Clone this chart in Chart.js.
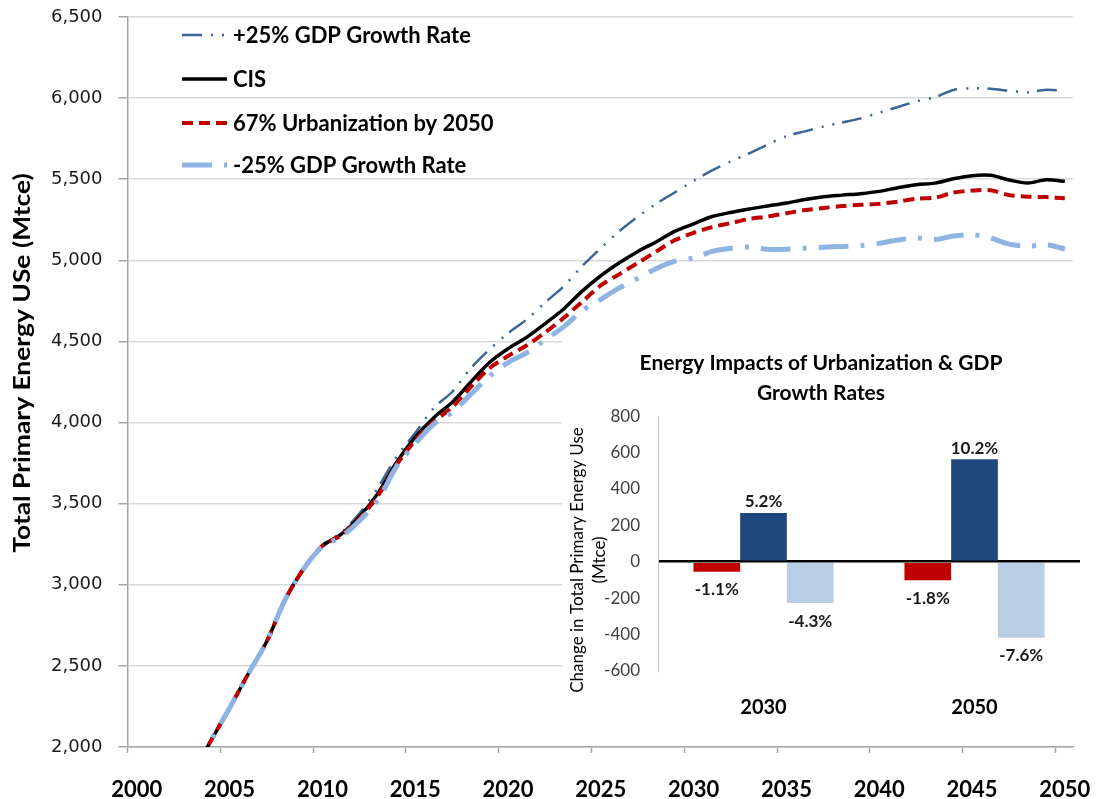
<!DOCTYPE html>
<html><head><meta charset="utf-8">
<script src="https://cdn.jsdelivr.net/npm/chart.js@4.4.1/dist/chart.umd.min.js"></script>
<style>
html,body{margin:0;padding:0;background:#fff;}
#wrap{position:relative;width:1096px;height:799px;overflow:hidden;background:#fff;}
#main{position:absolute;left:0;top:0;}
#inset{position:absolute;left:562px;top:336px;background:#fff;}
</style></head><body>
<div id="wrap"><canvas id="main" width="1096" height="799"></canvas><canvas id="inset" width="530" height="400"></canvas></div>
<script>
// ---------- DATA ----------
const years = [2003,2004,2005,2006,2007,2008,2009,2010,2011,2012,2013,2014,2015,2016,2017,2018,2019,2020,2021,2022,2023,2024,2025,2026,2027,2028,2029,2030,2031,2032,2033,2034,2035,2036,2037,2038,2039,2040,2041,2042,2043,2044,2045,2046,2047,2048,2049,2050];
const gdpHigh = [1830,2040,2240,2450,2650,2910,3100,3245,3320,3440,3600,3790,3935,4090,4190,4335,4450,4550,4635,4740,4840,4965,5075,5180,5270,5350,5420,5490,5555,5610,5660,5715,5765,5795,5825,5850,5875,5910,5945,5980,6005,6050,6060,6058,6045,6035,6052,6045];
const cis = [1830,2040,2240,2450,2650,2910,3100,3240,3310,3420,3565,3755,3910,4030,4125,4250,4370,4455,4525,4610,4700,4810,4905,4985,5055,5115,5180,5225,5270,5295,5317,5335,5353,5375,5392,5402,5411,5425,5448,5466,5476,5503,5522,5524,5495,5477,5496,5487];
const urban67 = [1830,2040,2240,2450,2650,2910,3100,3240,3305,3410,3550,3740,3890,4005,4095,4220,4335,4410,4475,4555,4645,4745,4845,4915,4985,5055,5125,5170,5205,5230,5255,5270,5290,5310,5322,5335,5342,5348,5362,5380,5386,5418,5430,5432,5402,5392,5390,5382];
const gdpLow = [1830,2040,2240,2450,2650,2910,3100,3235,3295,3395,3525,3730,3870,3990,4065,4175,4285,4370,4430,4510,4590,4690,4760,4830,4890,4950,4995,5015,5055,5075,5082,5068,5068,5075,5080,5086,5091,5105,5125,5138,5128,5150,5158,5138,5100,5088,5095,5070];
const xTickLabels = ['2000','2005','2010','2015','2020','2025','2030','2035','2040','2045','2050'];
const seriesNames = ['+25% GDP Growth Rate','CIS','67% Urbanization by 2050','-25% GDP Growth Rate'];

const insetCategories = ['2030','2050'];
const urbDelta = [-55,-101];
const gdpHighDelta = [268,563];
const gdpLowDelta = [-227,-418];
const urbPct = ['-1.1%','-1.8%'];
const gdpHighPct = ['5.2%','10.2%'];
const gdpLowPct = ['-4.3%','-7.6%'];

// ---------- MAIN CHART ----------
const toXY = arr => arr.map((v,i)=>({x:years[i], y:v}));

const legendPlugin = {
  id:'customLegend',
  afterDraw(chart){
    const ctx = chart.ctx;
    const rows = [35,79,123,165];
    chart.data.datasets.forEach((ds,i)=>{
      const y = rows[i];
      ctx.save();
      ctx.strokeStyle = ds.borderColor;
      ctx.lineWidth = ds.borderWidth;
      ctx.lineCap = 'butt';
      ctx.setLineDash(ds.borderDash || []);
      ctx.beginPath(); ctx.moveTo(182,y); ctx.lineTo(227,y); ctx.stroke();
      ctx.setLineDash([]);
      ctx.fillStyle = '#000';
      ctx.font = 'bold 22px Lato';
      ctx.textBaseline = 'middle';
      ctx.textAlign = 'left';
      ctx.fillText(ds.label, 233, y+1);
      ctx.restore();
    });
  }
};
const yTitlePlugin = {
  id:'yTitle',
  afterDraw(chart){
    const ctx = chart.ctx;
    ctx.save();
    ctx.translate(23, 363);
    ctx.rotate(-Math.PI/2);
    ctx.scale(1.2, 1);
    ctx.font = 'bold 22px Lato';
    ctx.fillStyle = '#000';
    ctx.textAlign = 'center';
    ctx.textBaseline = 'middle';
    ctx.fillText('Total Primary Energy USe (Mtce)', 0, 0);
    ctx.restore();
  }
};

new Chart(document.getElementById('main'), {
  type:'line',
  data:{datasets:[
    {label:seriesNames[0], data:toXY(gdpHigh), borderColor:'#3B6497', borderWidth:2.5, borderDash:[20,9,2,9,2,8], order:3},
    {label:seriesNames[1], data:toXY(cis), borderColor:'#000000', borderWidth:3.5, order:2},
    {label:seriesNames[2], data:toXY(urban67), borderColor:'#C00000', borderWidth:4, borderDash:[11,6], order:1},
    {label:seriesNames[3], data:toXY(gdpLow), borderColor:'#8EB4E3', borderWidth:5, borderDash:[30,12,4,12], order:0}
  ]},
  options:{
    responsive:false, animation:false, devicePixelRatio:1,
    layout:{padding:{top:17,right:23,bottom:0,left:0}},
    elements:{point:{radius:0}, line:{tension:0.3, fill:false, borderCapStyle:'butt'}},
    plugins:{legend:{display:false}, tooltip:{enabled:false}},
    scales:{
      x:{type:'linear', min:1999.5, max:2050.44,
        afterBuildTicks: s => { s.ticks = xTickLabels.map(l => ({value: Number(l) - 0.5})); },
        afterFit: s => { s.height = 52; s.paddingLeft = 0; s.paddingRight = 0; },
        ticks:{autoSkip:false, maxRotation:0, labelOffset:9.3, padding:24,
          callback:(v,i)=> xTickLabels[i],
          font:{family:'Lato', size:22, weight:'bold'}, color:'#000'},
        grid:{drawOnChartArea:false, drawTicks:true, tickLength:6, tickColor:'#A6A6A6', tickWidth:1.5},
        border:{display:true, color:'#A6A6A6', width:1.5}
      },
      y:{min:2000, max:6500,
        afterFit: s => { s.width = 127.5; s.paddingTop = 0; s.paddingBottom = 0; },
        ticks:{stepSize:500, padding:16, callback:v => v.toLocaleString('en-US'),
          font:{family:'DejaVu Sans', size:18}, color:'#1a1a1a'},
        grid:{color:'#D9D9D9', lineWidth:1.5, tickLength:9, tickColor:'#A6A6A6', tickWidth:1.5},
        border:{display:true, color:'#A6A6A6', width:1.5}
      }
    }
  },
  plugins:[legendPlugin, yTitlePlugin]
});

// ---------- INSET CHART ----------
const pctLabels = [urbPct, gdpHighPct, gdpLowPct];
const barLabelPlugin = {
  id:'barLabels',
  afterDatasetsDraw(chart){
    const ctx = chart.ctx;
    ctx.save();
    ctx.font = 'bold 17px Lato';
    ctx.fillStyle = '#1a1a1a';
    ctx.textAlign = 'center';
    ctx.textBaseline = 'middle';
    chart.data.datasets.forEach((ds,i)=>{
      chart.getDatasetMeta(i).data.forEach((bar,j)=>{
        const v = ds.data[j];
        const y = v >= 0 ? bar.y - 11 : bar.y + 18;
        ctx.fillText(pctLabels[i][j], bar.x, y);
      });
    });
    ctx.restore();
  }
};
const insetYTitle = {
  id:'insetYTitle',
  afterDraw(chart){
    const ctx = chart.ctx;
    ctx.save();
    ctx.font = '17px Lato';
    ctx.fillStyle = '#000';
    ctx.textAlign = 'center';
    ctx.textBaseline = 'middle';
    ctx.translate(16, 224); ctx.rotate(-Math.PI/2);
    ctx.fillText('Change in Total Primary Energy Use', 0, 0);
    ctx.fillText('(Mtce)', 0, 22);
    ctx.restore();
  }
};

new Chart(document.getElementById('inset'), {
  type:'bar',
  data:{labels:insetCategories, datasets:[
    {label:seriesNames[2], data:urbDelta, backgroundColor:'#C00000'},
    {label:seriesNames[0], data:gdpHighDelta, backgroundColor:'#1F497D'},
    {label:seriesNames[3], data:gdpLowDelta, backgroundColor:'#B9CDE5'}
  ]},
  options:{
    responsive:false, animation:false, devicePixelRatio:1,
    layout:{padding:{top:0,right:12,bottom:0,left:0}},
    datasets:{bar:{barPercentage:1, categoryPercentage:0.664}},
    plugins:{legend:{display:false}, tooltip:{enabled:false},
      title:{display:true, text:['Energy Impacts of Urbanization & GDP','Growth Rates'],
        font:{family:'Lato', size:21, weight:'bold', lineHeight:1.43}, color:'#000', padding:{top:12,bottom:8}}
    },
    scales:{
      x:{grid:{display:false}, border:{display:false},
        afterFit: s => { s.height = 65; },
        ticks:{padding:17, font:{family:'Lato', size:20, weight:'bold'}, color:'#000'}},
      y:{min:-600, max:800,
        afterFit: s => { s.width = 96; },
        ticks:{stepSize:200, padding:18, font:{family:'Lato', size:17}, color:'#404040'},
        grid:{drawTicks:false, color:c => c.tick && c.tick.value === 0 ? '#000' : 'rgba(0,0,0,0)', lineWidth:2.5},
        border:{display:true, color:'#BFBFBF', width:1}
      }
    }
  },
  plugins:[barLabelPlugin, insetYTitle]
});
</script>
</body></html>
